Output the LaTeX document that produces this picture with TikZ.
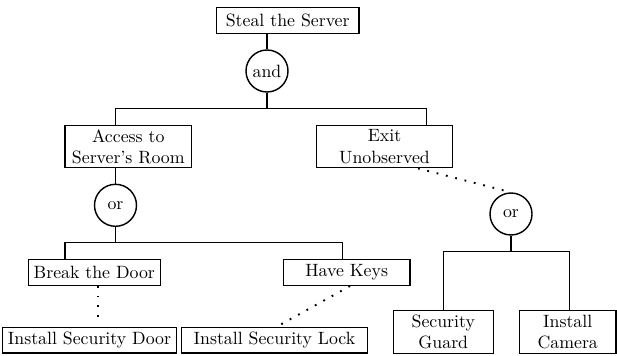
\documentclass[tikz,border=0pt]{standalone}
\usepackage{tikz}

\begin{document}
\begin{tikzpicture}[x=0.5618pt,y=-0.5618pt,line width=0.8pt,
		attack/.style={rectangle, draw, inner xsep=3pt, inner ysep=1pt, minimum height=14.4pt, align=center},
		gate/.style={circle, draw, inner sep=1pt, minimum size=23.6pt},
		counter/.style={dash pattern=on 1pt off 4.4pt, line width=1.1pt}]
		\useasboundingbox (0,0) rectangle (617,356);
		\node[attack, minimum width=80.3pt]	(steal)		at (287.7,20.5)		{Steal the Server};
		\node[gate]		(and)		at (267,71)			{and};
		\node[attack, minimum width=71.2pt, minimum height=23.6pt]	(access)	at (128.3,146.7)	{Access to\\Server's Room};
		\node[attack, minimum width=76.2pt, minimum height=23.6pt]	(exit)		at (384.5,146.7)	{Exit\\Unobserved};
		\node[gate]		(or1)		at (115.5,205.3)	{or};
		\node[attack, minimum width=71.1pt]	(break)		at (94.3,272.5)		{Break the Door};
		\node[attack, minimum width=71.2pt]	(keys)		at (346.7,272.5)	{Have Keys};
		\node[attack, minimum width=95pt]	(door)		at (89.5,340.3)		{Install Security Door};
		\node[attack, minimum width=104.3pt]	(lock)		at (274.5,340.3)	{Install Security Lock};
		\node[gate]		(or2)		at (511,214)		{or};
		\node[attack, minimum width=56.2pt, minimum height=23.9pt]	(guard)		at (443.3,332)		{Security\\Guard};
		\node[attack, minimum width=54.3pt, minimum height=23.9pt]	(camera)	at (567.7,332)		{Install\\Camera};
		% bars of the tree
		\coordinate (bar1l) at (115.7,108.3);	\coordinate (bar1r) at (426.7,108.3);
		\coordinate (bar2l) at (65,242.7);		\coordinate (bar2r) at (342.3,242.7);
		\coordinate (bar3l) at (443.3,251.5);	\coordinate (bar3r) at (569.3,251.5);
		\draw (steal.south -| and) -- (and);
		\draw (and) -- (and |- bar1l);
		\draw (bar1l |- access.north) -- (bar1l) -- (bar1r) -- (bar1r |- exit.north);
		\draw (access.south -| or1) -- (or1);
		\draw (or1) -- (or1 |- bar2l);
		\draw (bar2l |- break.north) -- (bar2l) -- (bar2r) -- (bar2r |- keys.north);
		\draw (or2) -- (or2 |- bar3l);
		\draw (bar3l |- guard.north) -- (bar3l) -- (bar3r) -- (bar3r |- camera.north);
		% countermeasures
		\draw[counter, shorten >=4pt]	([xshift=2.1pt]break.south) -- ([xshift=2.1pt]break.south |- door.north);
		\draw[counter]	([xshift=1.9pt]keys.south) -- ([xshift=1.2pt]lock.north);
		\draw[counter]	([xshift=18.8pt]exit.south) -- (or2.north);
	\end{tikzpicture}
\end{document}
